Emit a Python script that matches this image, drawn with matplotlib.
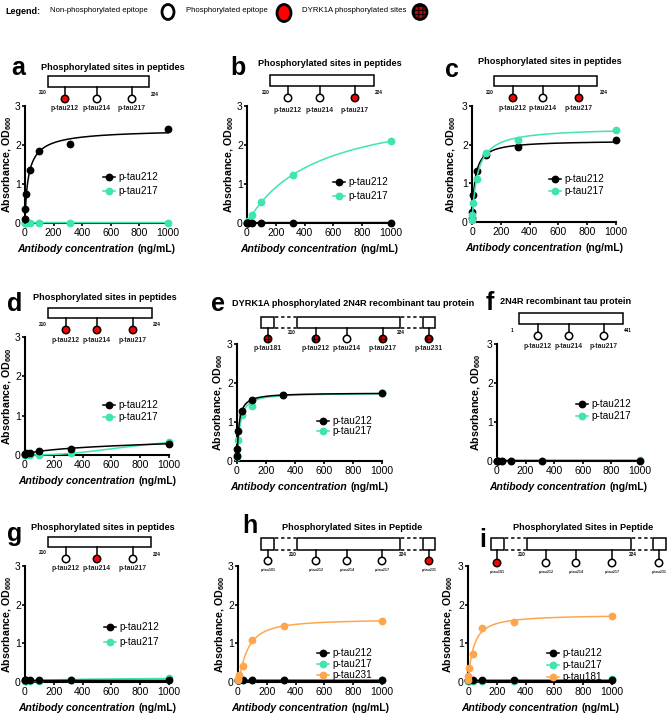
import numpy as np
import matplotlib
matplotlib.use('Agg')
import matplotlib.pyplot as plt
from matplotlib.patches import Rectangle, Circle, Ellipse
from matplotlib.lines import Line2D
from matplotlib.offsetbox import TextArea, HPacker, AnnotationBbox

plt.rcParams['font.family'] = ['Liberation Sans', 'DejaVu Sans']
plt.rcParams['mathtext.fontset'] = 'custom'
plt.rcParams['mathtext.rm'] = 'Liberation Sans'
plt.rcParams['mathtext.bf'] = 'Liberation Sans:bold'
plt.rcParams['hatch.linewidth'] = 0.7

# ---------------- data ----------------
conc = [1, 3.16, 10, 31.6, 100, 316, 1000]

a_212 = [0.11, 0.35, 0.75, 1.35, 1.85, 2.02, 2.41]
a_217 = [0.01, 0.01, 0.01, 0.01, 0.01, 0.01, 0.01]
b_212 = [0.01, 0.01, 0.01, 0.01, 0.01, 0.01, 0.01]
b_217 = [0.01, 0.02, 0.06, 0.20, 0.54, 1.23, 2.10]
c_212 = [0.10, 0.27, 0.69, 1.33, 1.73, 1.93, 2.12]
c_217 = [0.04, 0.19, 0.49, 1.12, 1.78, 2.13, 2.39]
d_212 = [0.02, 0.03, 0.04, 0.06, 0.09, 0.16, 0.29]
d_217 = [0.00, 0.00, 0.00, 0.00, 0.00, 0.04, 0.32]
e_212 = [0.12, 0.32, 0.76, 1.28, 1.57, 1.68, 1.74]
e_217 = [0.10, 0.15, 0.55, 1.18, 1.42, 1.70, 1.74]
f_212 = [0.01, 0.01, 0.01, 0.01, 0.01, 0.01, 0.01]
f_217 = [0.01, 0.01, 0.01, 0.01, 0.01, 0.01, 0.03]
g_212 = [0.04, 0.04, 0.04, 0.04, 0.04, 0.04, 0.04]
g_217 = [0.03, 0.03, 0.03, 0.03, 0.03, 0.05, 0.10]
h_212 = [0.04, 0.04, 0.04, 0.04, 0.04, 0.04, 0.04]
h_217 = [0.05, 0.05, 0.05, 0.05, 0.05, 0.05, 0.05]
h_231 = [0.04, 0.08, 0.17, 0.42, 1.08, 1.45, 1.57]
i_212 = [0.04, 0.04, 0.04, 0.04, 0.04, 0.04, 0.04]
i_217 = [0.03, 0.03, 0.03, 0.03, 0.03, 0.03, 0.08]
i_181 = [0.06, 0.15, 0.37, 0.73, 1.39, 1.56, 1.70]

x_ticks = [0, 200, 400, 600, 800, 1000]
y_ticks = [0, 1, 2, 3]

BLACK = '#000000'
TEAL = '#40E3B2'
ORANGE = '#FFA64C'
RED = '#FF0000'

W, H = 668, 714
fig = plt.figure(figsize=(W / 100, H / 100), dpi=100)
fig.patch.set_facecolor('white')

ov = fig.add_axes([0, 0, 1, 1])
ov.set_xlim(0, W)
ov.set_ylim(H, 0)
ov.axis('off')
ov.patch.set_visible(False)
ov.set_zorder(10)


def hill_fit(x, y):
    x = np.asarray(x, float)
    y = np.asarray(y, float)
    kds = np.logspace(-0.5, 5, 300)[:, None, None]
    hs = np.linspace(0.6, 2.6, 41)[None, :, None]
    f = x[None, None, :] ** hs / (kds ** hs + x[None, None, :] ** hs)
    bm = (f * y).sum(-1) / (f * f).sum(-1)
    sse = ((bm[..., None] * f - y) ** 2).sum(-1)
    i, j = np.unravel_index(np.argmin(sse), sse.shape)
    return bm[i, j], kds[i, 0, 0], hs[0, j, 0]


xs = np.unique(np.concatenate([np.linspace(0, 30, 200), np.linspace(30, 1000, 400)]))


def make_ax(x0, x1, ytop, ybot, yl_off=18):
    ax = fig.add_axes([x0 / W, 1 - ybot / H, (x1 - x0) / W, (ybot - ytop) / H])
    ax.patch.set_visible(False)
    ax.set_xlim(0, 1000)
    ax.set_ylim(0, 3)
    for s in ['top', 'right']:
        ax.spines[s].set_visible(False)
    for s in ['left', 'bottom']:
        ax.spines[s].set_linewidth(1.5)
    ax.set_xticks(x_ticks)
    ax.set_yticks(y_ticks)
    ax.tick_params(direction='out', length=2.2, width=1.2, labelsize=7.5, pad=0.8)
    ax.tick_params(axis='x', pad=1.5)
    # y label
    ov.text(max(x0 - yl_off, 7.5), (ytop + ybot) / 2, r'Absorbance, OD$_{\mathbf{600}}$', fontsize=7.7,
            fontweight='bold', rotation=90, ha='center', va='center', rotation_mode='anchor')
    # x label
    t1 = TextArea('Antibody concentration', textprops=dict(fontsize=7.5, fontweight='bold', fontstyle='italic'))
    t2 = TextArea('(ng/mL)', textprops=dict(fontsize=7.5, fontweight='bold'))
    pk = HPacker(children=[t1, t2], sep=2.5, pad=0, align='baseline')
    ab = AnnotationBbox(pk, ((x0 + x1) / 2, ybot + 26), xycoords=ov.transData, frameon=False,
                        box_alignment=(0.5, 0.5), pad=0)
    ov.add_artist(ab)
    return ax


def series(ax, y, color, z):
    bm, kd, h = hill_fit(conc, y)
    ax.plot(xs, bm * xs ** h / (kd ** h + xs ** h), color=color, lw=1.1, zorder=z, clip_on=False)
    ax.plot(conc, y, 'o', color=color, ms=4.6, zorder=z + 0.5, clip_on=False, mec=color)


def legend(ax, entries, mx, my, pitch):
    fs = 7.2
    fs_px = fs * 100 / 72
    hl = 1.15
    handles = [Line2D([], [], color=c, marker='o', ms=4.6, lw=1.1) for c, _ in entries]
    labels = [l for _, l in entries]
    row_h = fs_px * 1.2
    ls = max(pitch - row_h, 0) / fs_px
    left = mx - hl * fs_px / 2
    top = my - row_h / 2
    ax.legend(handles, labels, loc='upper left', bbox_to_anchor=(left / W, 1 - top / H),
              bbox_transform=fig.transFigure, frameon=False, fontsize=fs, handlelength=hl,
              handletextpad=0.35, labelspacing=ls, borderpad=0, borderaxespad=0)


def site(x, cy, kind, r=3.7):
    if kind == 'open':
        p = Circle((x, cy), r, fc='white', ec='black', lw=1.1, zorder=6)
    elif kind == 'red':
        p = Circle((x, cy), r, fc=RED, ec='black', lw=1.1, zorder=6)
    else:
        p = Circle((x, cy), r, fc='#D00000', ec='black', lw=1.1, zorder=6, hatch='++++')
    ov.add_patch(p)


def diagram(title, tx, ty, rect, nl, nr, sites, cy, ly, lfs=4.9, squares=None, tha='center'):
    ov.text(tx, ty, title, fontsize=6.6, fontweight='bold', ha=tha, va='center')
    x0, y0, x1, y1 = rect
    ov.add_patch(Rectangle((x0, y0), x1 - x0, y1 - y0, fc='white', ec='black', lw=1.1, zorder=5))
    ov.text(nl[1], nl[2], nl[0], fontsize=3.3, fontweight='bold', ha='center', va='center')
    ov.text(nr[1], nr[2], nr[0], fontsize=3.3, fontweight='bold', ha='center', va='center')
    if squares is not None:
        for (sx0, sx1), (dx0, dx1) in squares:
            ov.add_patch(Rectangle((sx0, y0), sx1 - sx0, y1 - y0, fc='white', ec='black', lw=1.1, zorder=5))
            for yy in (y0, y1):
                ov.plot([dx0, dx1], [yy, yy], color='black', lw=1.1, ls=(0, (2.2, 1.8)), zorder=5)
    for sx, kind, lab in sites:
        ov.plot([sx, sx], [y1, cy - 3.7], color='black', lw=1.1, zorder=5)
        site(sx, cy, kind)
        ov.text(sx, ly, lab, fontsize=lfs, fontweight='bold', ha='center', va='center', color='#222222')


def letter(s, x, y):
    ov.text(x, y, s, fontsize=18, fontweight='bold', ha='left', va='baseline')


# ---------------- top legend ----------------
ov.text(5, 11, 'Legend:', fontsize=6.5, fontweight='bold', ha='left', va='center')
ov.text(50, 10, 'Non-phosphorylated epitope', fontsize=5.6, ha='left', va='center')
ov.add_patch(Ellipse((168, 12), 12, 15, fc='white', ec='black', lw=2.0))
ov.text(186, 10, 'Phosphorylated epitope', fontsize=5.6, ha='left', va='center')
ov.add_patch(Ellipse((284, 13), 14, 17, fc=RED, ec='black', lw=2.0))
ov.text(302, 11, 'DYRK1A phosphorylated sites', fontsize=5.6, ha='left', va='center')
ov.add_patch(Ellipse((420, 12), 14, 15, fc='#D00000', ec='black', lw=2.0, hatch='++++'))

PT = ['p-tau212', 'p-tau214', 'p-tau217']

# ---------------- panel a ----------------
ax = make_ax(25, 168, 106, 223, 18)
series(ax, a_217, TEAL, 3)
series(ax, a_212, BLACK, 4)
legend(ax, [(BLACK, 'p-tau212'), (TEAL, 'p-tau217')], 109, 178, 16)
letter('a', 11, 75)
diagram('Phosphorylated sites in peptides', 113, 67, (48, 76, 149, 87), ('210', 43, 93), ('224', 155, 94),
        list(zip([65, 97, 132], ['red', 'open', 'open'], PT)), 99, 109)

# ---------------- panel b ----------------
ax = make_ax(247, 391, 106, 223, 18)
series(ax, b_217, TEAL, 3)
series(ax, b_212, BLACK, 4)
legend(ax, [(BLACK, 'p-tau212'), (TEAL, 'p-tau217')], 339, 183, 16)
letter('b', 230, 75)
diagram('Phosphorylated sites in peptides', 330, 64, (270, 75, 374, 86), ('210', 266, 92), ('224', 379, 92),
        list(zip([288, 320, 355], ['open', 'open', 'red'], PT)), 98, 110)

# ---------------- panel c ----------------
ax = make_ax(472, 616, 106, 222, 21)
series(ax, c_212, BLACK, 3)
series(ax, c_217, TEAL, 4)
legend(ax, [(BLACK, 'p-tau212'), (TEAL, 'p-tau217')], 555, 180, 14)
letter('c', 445, 77)
diagram('Phosphorylated sites in peptides', 550, 62, (494, 76, 597, 86), ('210', 490, 92), ('224', 604, 92),
        list(zip([513, 543, 579], ['red', 'open', 'red'], PT)), 98, 109)

# ---------------- panel d ----------------
ax = make_ax(25, 169, 337, 455, 18)
series(ax, d_217, TEAL, 3)
series(ax, d_212, BLACK, 4)
legend(ax, [(BLACK, 'p-tau212'), (TEAL, 'p-tau217')], 109, 406, 14)
letter('d', 7, 311)
diagram('Phosphorylated sites in peptides', 105, 298, (48, 308, 152, 318), ('210', 43, 324), ('224', 157, 324),
        list(zip([66, 97, 133], ['red', 'red', 'red'], PT)), 330, 340)

# ---------------- panel e ----------------
ax = make_ax(237, 382, 344, 461, 19)
series(ax, e_217, TEAL, 3)
series(ax, e_212, BLACK, 4)
legend(ax, [(BLACK, 'p-tau212'), (TEAL, 'p-tau217')], 323, 422, 12)
letter('e', 211, 311)
diagram('DYRK1A phosphorylated 2N4R recombinant tau protein', 232, 304, (297, 317, 400, 328),
        ('210', 292, 333), ('224', 401, 333),
        [(268, 'check', 'p-tau181'), (316, 'check', 'p-tau212'), (347, 'open', 'p-tau214'),
         (383, 'check', 'p-tau217'), (429, 'check', 'p-tau231')], 339, 349,
        squares=[((261, 274), (275, 296)), ((423, 435), (401, 422))], tha='left')

# ---------------- panel f ----------------
ax = make_ax(497, 640, 344, 461, 21)
series(ax, f_217, TEAL, 3)
series(ax, f_212, BLACK, 4)
legend(ax, [(BLACK, 'p-tau212'), (TEAL, 'p-tau217')], 582, 405, 14)
letter('f', 486, 310)
diagram('2N4R recombinant tau protein', 500, 302, (519, 313, 623, 324), ('1', 512, 330), ('441', 628, 330),
        list(zip([538, 569, 604], ['open', 'open', 'open'], PT)), 336, 346, tha='left')

# ---------------- panel g ----------------
ax = make_ax(25, 169, 566, 682, 18)
series(ax, g_217, TEAL, 3)
series(ax, g_212, BLACK, 4)
legend(ax, [(BLACK, 'p-tau212'), (TEAL, 'p-tau217')], 110, 628, 17)
letter('g', 7, 541)
diagram('Phosphorylated sites in peptides', 103, 528, (48, 537, 151, 547), ('210', 43, 553), ('224', 157, 554),
        list(zip([66, 97, 133], ['open', 'red', 'open'], PT)), 559, 569)

# ---------------- panel h ----------------
ax = make_ax(238, 382, 566, 682, 18)
series(ax, h_217, TEAL, 3)
series(ax, h_212, BLACK, 4)
series(ax, h_231, ORANGE, 5)
legend(ax, [(BLACK, 'p-tau212'), (TEAL, 'p-tau217'), (ORANGE, 'p-tau231')], 323, 654, 13)
letter('h', 242, 533)
diagram('Phosphorylated Sites in Peptide', 352, 527, (297, 538, 400, 550), ('210', 293, 555), ('224', 403, 554),
        [(268, 'open', 'p-tau181'), (316, 'open', 'p-tau212'), (347, 'open', 'p-tau214'),
         (382, 'open', 'p-tau217'), (429, 'red', 'p-tau231')], 561, 570, lfs=2.6,
        squares=[((261, 274), (275, 296)), ((423, 435), (401, 422))])

# ---------------- panel i ----------------
ax = make_ax(468, 612, 566, 682, 20)
series(ax, i_217, TEAL, 3)
series(ax, i_212, BLACK, 4)
series(ax, i_181, ORANGE, 5)
legend(ax, [(BLACK, 'p-tau212'), (TEAL, 'p-tau217'), (ORANGE, 'p-tau181')], 553, 654, 14)
letter('i', 479, 547)
diagram('Phosphorylated Sites in Peptide', 583, 527, (527, 538, 631, 550), ('210', 522, 555), ('224', 633, 554),
        [(497, 'red', 'p-tau181'), (546, 'open', 'p-tau212'), (576, 'open', 'p-tau214'),
         (612, 'open', 'p-tau217'), (659, 'open', 'p-tau231')], 563, 572, lfs=2.6,
        squares=[((491, 504), (505, 526)), ((653, 666), (632, 652))])

fig.savefig('out.png', dpi=100)
